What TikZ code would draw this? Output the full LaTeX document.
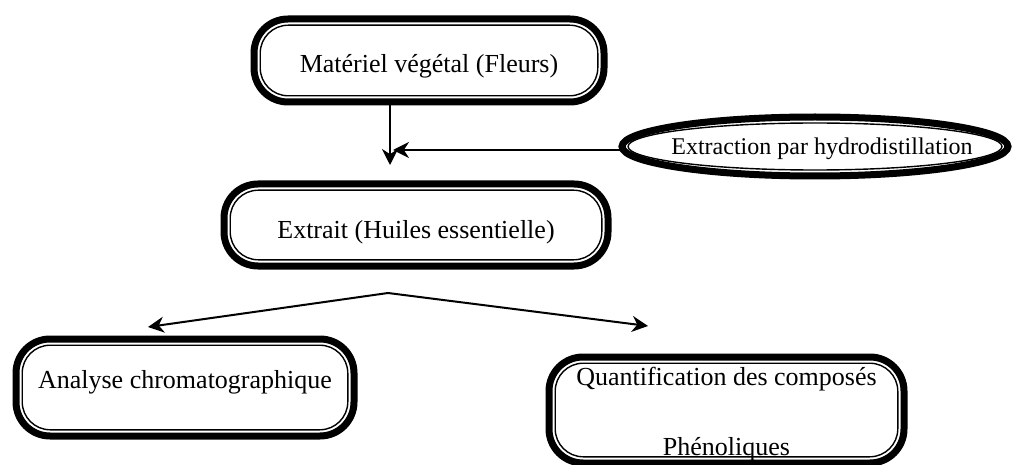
\documentclass[tikz,border=0pt]{standalone}
\usepackage{fontspec}
\setmainfont{Liberation Serif}
\usetikzlibrary{shapes.geometric,arrows.meta}

\tikzset{
	boite/.style={draw, line width=3.5pt, rounded corners=17pt, inner sep=0pt, outer sep=0pt, align=center, text depth=0pt, font=\fontsize{13}{15.6}\selectfont},
	interne/.style={line width=0.7pt, rounded corners=14pt},
	fleche/.style={line width=1pt, -{Stealth[length=8pt,width=8pt]}},
}

\begin{document}
\begin{tikzpicture}[x=0.5pt,y=-0.5pt]
	
	\useasboundingbox (0,0) rectangle (1013,465);
	
	\node[boite, minimum width=175pt, minimum height=41.5pt, text height=12.5pt] (materiel) at (429,60.5) {Matériel végétal (Fleurs)};
	\node[boite, minimum width=192pt, minimum height=41pt, text height=13pt] (extrait) at (416,225) {Extrait (Huiles essentielle)};
	\node[boite, minimum width=169pt, minimum height=48.5pt, text height=0.5pt] (analyse) at (185,387.5) {Analyse chromatographique};
	\node[boite, minimum width=177.5pt, minimum height=53pt, text height=45pt] (quant) at (726.5,410) {Quantification des composés\\[19.4pt]Phénoliques};
	
	\foreach \n in {materiel,extrait,analyse,quant}
		\draw[interne] ([shift={(3.1pt,-3.1pt)}]\n.north west) rectangle ([shift={(-3.1pt,3.1pt)}]\n.south east);
	
	\node[ellipse, draw, line width=3.5pt, inner sep=0pt, outer sep=0pt, minimum width=193pt, minimum height=29.5pt] (extraction) at (815,146.5) {};
	\draw[line width=0.7pt] (extraction.center) ellipse [x radius=187, y radius=23.5];
	\node[inner sep=0pt, text height=8.5pt, text depth=0pt, font=\fontsize{12}{14.4}\selectfont] (extractiontexte) at ([xshift=3.5pt]extraction.center) {Extraction par hydrodistillation};
	
	\coordinate (pointe) at (390,165);
	\coordinate (arrivee) at (393,150);
	\coordinate (sommet) at (388,293);
	\coordinate (gauche) at (148,327);
	\coordinate (droite) at (648,326);
	
	\draw[fleche] (materiel.south -| pointe) -- (pointe);
	\draw[fleche] (extraction.west |- arrivee) -- (arrivee);
	\draw[fleche] (sommet) -- (gauche);
	\draw[fleche] (sommet) -- (droite);
	
\end{tikzpicture}
\end{document}
